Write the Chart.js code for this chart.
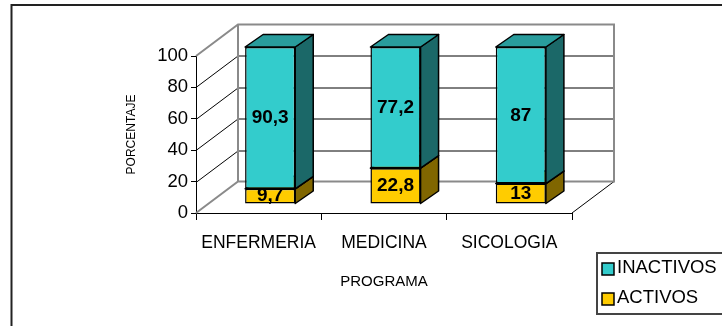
<!DOCTYPE html>
<html>
<head>
<meta charset="utf-8">
<script src="https://cdn.jsdelivr.net/npm/chart.js@4"></script>
<style>
  html, body { margin: 0; padding: 0; background: #fff; }
  #wrap { width: 722px; height: 326px; }
</style>
</head>
<body>
<div id="wrap"><canvas id="grafico"></canvas></div>
<script>
const programas = ['ENFERMERIA', 'MEDICINA', 'SICOLOGIA'];
const activos = [9.7, 22.8, 13];
const inactivos = [90.3, 77.2, 87];
const ticksY = [0, 20, 40, 60, 80, 100];

const FUENTE = '"Liberation Sans", Arial, sans-serif';
// fondo del grafico (paredes) y volumen de las barras
const PROF = { dx: 42, dy: -31.5 };
const BARRA = { ox: 11.5, oy: -9, dx: 18, dy: -12.5 };

const formato = v => String(v).replace('.', ',');

const efecto3d = {
  id: 'efecto3d',
  beforeDraw(chart) {
    const c = chart.ctx;
    // marco exterior
    c.save();
    c.strokeStyle = '#222';
    c.lineWidth = 2;
    c.beginPath();
    c.moveTo(11.5, chart.height);
    c.lineTo(11.5, 5);
    c.lineTo(chart.width, 5);
    c.stroke();
    c.restore();
  },
  beforeDatasetsDraw(chart) {
    const c = chart.ctx, a = chart.chartArea, sy = chart.scales.y;
    const L = a.left, R = a.right, T = a.top, B = a.bottom, dx = PROF.dx, dy = PROF.dy;
    c.save();
    // lineas de division en pared lateral y fondo
    c.strokeStyle = '#000';
    c.lineWidth = 1;
    ticksY.slice(1, -1).forEach(v => {
      const py = Math.round(sy.getPixelForValue(v)) + 0.5;
      c.beginPath();
      c.moveTo(L, py);
      c.lineTo(L + dx, py + dy);
      c.lineTo(R + dx, py + dy);
      c.stroke();
    });
    c.beginPath();
    c.moveTo(R, B);
    c.lineTo(R + dx, B + dy);
    c.stroke();
    // bordes de las paredes
    c.strokeStyle = '#8a8a8a';
    c.lineWidth = 2;
    c.beginPath();
    c.moveTo(L, T);
    c.lineTo(L + dx, T + dy);
    c.lineTo(R + dx, T + dy);
    c.lineTo(R + dx, B + dy);
    c.lineTo(L + dx, B + dy);
    c.lineTo(L, B);
    c.moveTo(L + dx, T + dy);
    c.lineTo(L + dx, B + dy);
    c.stroke();
    c.restore();

    // caras laterales y tapas; el frente lo dibuja Chart.js con el mismo desplazamiento
    c.save();
    c.translate(BARRA.ox, BARRA.oy);
    c.lineWidth = 1.5;
    c.strokeStyle = '#000';
    c.lineJoin = 'round';
    chart.data.datasets.forEach((ds, i) => {
      chart.getDatasetMeta(i).data.forEach(bar => {
        const { x, y, base, width } = bar.getProps(['x', 'y', 'base', 'width'], true);
        const l = x - width / 2, r = x + width / 2;
        c.fillStyle = ds.colorLado;
        c.beginPath();
        c.moveTo(r, y);
        c.lineTo(r + BARRA.dx, y + BARRA.dy);
        c.lineTo(r + BARRA.dx, base + BARRA.dy);
        c.lineTo(r, base);
        c.closePath();
        c.fill();
        c.stroke();
        c.fillStyle = ds.colorTapa;
        c.beginPath();
        c.moveTo(l, y);
        c.lineTo(l + BARRA.dx, y + BARRA.dy);
        c.lineTo(r + BARRA.dx, y + BARRA.dy);
        c.lineTo(r, y);
        c.closePath();
        c.fill();
        c.stroke();
      });
    });
  },
  afterDatasetsDraw(chart) {
    const c = chart.ctx;
    // valores sobre cada segmento
    c.font = 'bold 19px ' + FUENTE;
    c.fillStyle = '#000';
    c.textAlign = 'center';
    c.textBaseline = 'middle';
    chart.data.datasets.forEach((ds, i) => {
      chart.getDatasetMeta(i).data.forEach((bar, j) => {
        const { x, y, base } = bar.getProps(['x', 'y', 'base'], true);
        c.fillText(formato(ds.data[j]), x, (y + base) / 2);
      });
    });
    c.restore();
  },
  afterDraw(chart) {
    const c = chart.ctx;
    // leyenda
    c.save();
    c.strokeStyle = '#444';
    c.lineWidth = 2;
    c.strokeRect(597, 253, 140, 61);
    const items = chart.data.datasets.slice().reverse();
    items.forEach((ds, i) => {
      const yc = 268 + i * 30;
      c.fillStyle = ds.backgroundColor;
      c.fillRect(602, yc - 5, 12, 12);
      c.strokeStyle = '#000';
      c.lineWidth = 1.5;
      c.strokeRect(602, yc - 5, 12, 12);
      c.fillStyle = '#000';
      c.font = '18.5px ' + FUENTE;
      c.textAlign = 'left';
      c.textBaseline = 'middle';
      c.fillText(ds.label, 617, yc);
    });
    c.restore();
  }
};

Chart.defaults.color = '#000';
Chart.defaults.font.family = FUENTE;

new Chart(document.getElementById('grafico'), {
  type: 'bar',
  data: {
    labels: programas,
    datasets: [{
      label: 'ACTIVOS',
      data: activos,
      backgroundColor: '#FFCC00',
      colorLado: '#806600',
      colorTapa: '#B38F00',
      borderColor: '#000',
      borderWidth: 1.5,
      borderSkipped: false,
      clip: false
    }, {
      label: 'INACTIVOS',
      data: inactivos,
      backgroundColor: '#33CCCC',
      colorLado: '#1B6868',
      colorTapa: '#299C9C',
      borderColor: '#000',
      borderWidth: 1.5,
      borderSkipped: false,
      clip: false
    }]
  },
  options: {
    responsive: true,
    maintainAspectRatio: false,
    animation: false,
    categoryPercentage: 1,
    barPercentage: 0.4,
    layout: { padding: { left: 118, right: 150, top: 56, bottom: 33 } },
    plugins: {
      legend: { display: false },
      tooltip: { enabled: false }
    },
    scales: {
      x: {
        stacked: true,
        afterFit: s => { s.height = 80; },
        grid: { drawOnChartArea: false, drawTicks: true, tickLength: 7, color: '#000' },
        border: { display: true, color: '#000', width: 1 },
        ticks: { font: { size: 17.5 }, padding: 12.5, maxRotation: 0 },
        title: { display: true, text: 'PROGRAMA', font: { size: 15 }, padding: { top: 0, bottom: 2.5 } }
      },
      y: {
        stacked: true,
        min: 0,
        max: 100,
        afterFit: s => { s.width = 78; },
        afterBuildTicks: s => { s.ticks = ticksY.map(v => ({ value: v })); },
        grid: { drawOnChartArea: false, drawTicks: true, tickLength: 5, color: '#000' },
        border: { display: true, color: '#000', width: 1 },
        ticks: { font: { size: 18.5 }, padding: 3 },
        title: { display: true, text: 'PORCENTAJE', font: { size: 12 }, padding: { top: 6.5, bottom: 0 } }
      }
    }
  },
  plugins: [efecto3d]
});
</script>
</body>
</html>
